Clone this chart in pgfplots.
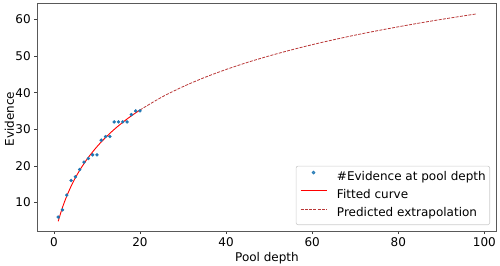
\documentclass[border=0pt]{standalone}
\usepackage{fontspec}
\setmainfont{DejaVu Sans}
\usepackage{pgfplots}
\pgfplotsset{compat=1.18}
\definecolor{tabblue}{HTML}{1F77B4}
\definecolor{extrap}{RGB}{185,55,55}
\pgfplotsset{
  dotleg/.style={legend image code/.code={\path (0pt,0pt) (26pt,0pt); \draw[##1] plot coordinates {(13pt,4.5pt)};}},
  lineleg/.style={legend image code/.code={\draw[##1] (0pt,4.5pt) -- (26pt,4.5pt);}},
}
\begin{document}
\begin{tikzpicture}[font=\fontsize{12}{14}\selectfont]
\begin{axis}[
  scale only axis, width=459.4pt, height=227.3pt,
  xmin=-3.85, xmax=102.85, ymin=2.2, ymax=64.3,
  xtick={0,20,40,60,80,100}, ytick={10,20,30,40,50,60},
  tick pos=left, tick align=outside, major tick length=3pt,
  every tick/.style={black!75, line width=0.6pt},
  axis line style={black!65, line width=0.6pt},
  /pgf/number format/assume math mode=true,
  tick label style={font=\fontsize{12}{14}\selectfont},
  xlabel={Pool depth}, ylabel={Evidence},
  xlabel style={at={(axis description cs:0.5,0)}, anchor=base, yshift=-30.5pt},
  ylabel style={at={(axis description cs:0,0.5)}, anchor=center, yshift=28pt, xshift=-1.8pt},
  legend cell align=left,
  legend style={at={(1,0)}, anchor=south east, xshift=-6.7pt, yshift=6pt,
    draw=black!20, line width=0.6pt, rounded corners=2pt, fill=white,
    fill opacity=0.8, text opacity=1, inner xsep=4pt, inner ysep=5pt,
    row sep=6.3pt, column sep=10pt, font=\fontsize{12}{14}\selectfont,
    nodes={inner sep=0pt, text height=9pt, text depth=3pt}},
]
\addplot[only marks, mark=*, mark size=1.5pt, color=tabblue, dotleg]
  coordinates {(1,6) (2,8) (3,12) (4,16) (5,17) (6,19) (7,21) (8,22) (9,23) (10,23)
   (11,27) (12,28) (13,28) (14,32) (15,32) (16,32) (17,32) (18,34) (19,35) (20,35)};
\addlegendentry{\#Evidence at pool depth}
\addplot[color=red, line width=0.9pt, smooth, lineleg]
  coordinates {(1,4.84) (2,8.64) (3,11.77) (4,14.43) (5,16.75) (6,18.80) (7,20.63)
   (8,22.30) (9,23.82) (10,25.22) (11,26.52) (12,27.73) (13,28.87) (14,29.94)
   (15,30.94) (16,31.89) (17,32.80) (18,33.66) (19,34.48) (20,35.26)};
\addlegendentry{Fitted curve}
\addplot[color=extrap, line width=0.8pt, dash pattern=on 3pt off 1.3pt, smooth, lineleg]
  coordinates {(20,35.26) (25,38.74) (30,41.64) (35,44.14) (40,46.33) (45,48.28)
   (50,50.03) (55,51.63) (60,53.10) (65,54.46) (70,55.72) (75,56.89) (80,57.99)
   (85,59.03) (90,60.01) (95,60.94) (98,61.48)};
\addlegendentry{Predicted extrapolation}
\end{axis}
\pgfresetboundingbox
\path (-37.3pt,-34pt) rectangle (462.7pt,231pt);
\end{tikzpicture}
\end{document}
